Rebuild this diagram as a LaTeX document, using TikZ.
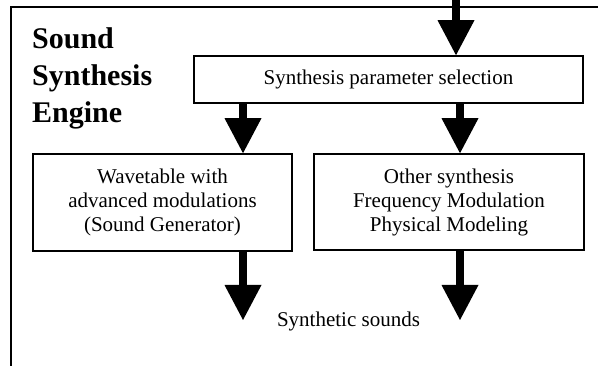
\documentclass[tikz,border=0pt]{standalone}
\usepackage{fontspec}
\setmainfont{Liberation Serif}
\usetikzlibrary{arrows.meta}
\begin{document}
\begin{tikzpicture}[x=1pt,y=-1pt,
  box/.style={draw,line width=1.6pt,rectangle,inner sep=0pt,align=center,
    font=\fontsize{21}{24}\selectfont},
  flow/.style={line width=8pt,
    -{Triangle[width=37pt,length=35pt,line width=0pt]}},
  title/.style={align=left,inner sep=0pt,anchor=base west,
    font=\fontsize{30}{37}\selectfont\bfseries},
  lbl/.style={inner sep=0pt,anchor=base,font=\fontsize{21}{24}\selectfont}]
\useasboundingbox (0,0) rectangle (598,366);
\fill[white] (0,0) rectangle (598,366);

% engine frame (only top and left edges inside the page)
\draw[line width=1.6pt] (11,370) -- (11,7) -- (602,7);

% title; the base anchor sits on the last line
\node[title] (ttl) at (32,122.5) {Sound\\Synthesis\\Engine};

% blocks
\node[box,minimum width=389pt,minimum height=47pt] (par) at (388.5,79.5)
  {Synthesis parameter selection};
\node[box,minimum width=259pt,minimum height=97pt] (wav) at (162.5,202.5)
  {Wavetable with\\advanced modulations\\(Sound Generator)};
\node[box,minimum width=270pt,minimum height=96pt] (oth) at (449,202)
  {Other synthesis\\Frequency Modulation\\Physical Modeling};

\node[lbl] (out) at (348.5,327) {Synthetic sounds};

% connectors
\coordinate (in) at (456,-2);
\coordinate (outL) at (243,320);
\coordinate (outR) at (460,320);
\draw[flow] (in) -- (in |- par.north);
\draw[flow] (par.south -| outL) -- (wav.north -| outL);
\draw[flow] (par.south -| outR) -- (oth.north -| outR);
\draw[flow] (wav.south -| outL) -- (outL);
\draw[flow] (oth.south -| outR) -- (outR);
\end{tikzpicture}
\end{document}
